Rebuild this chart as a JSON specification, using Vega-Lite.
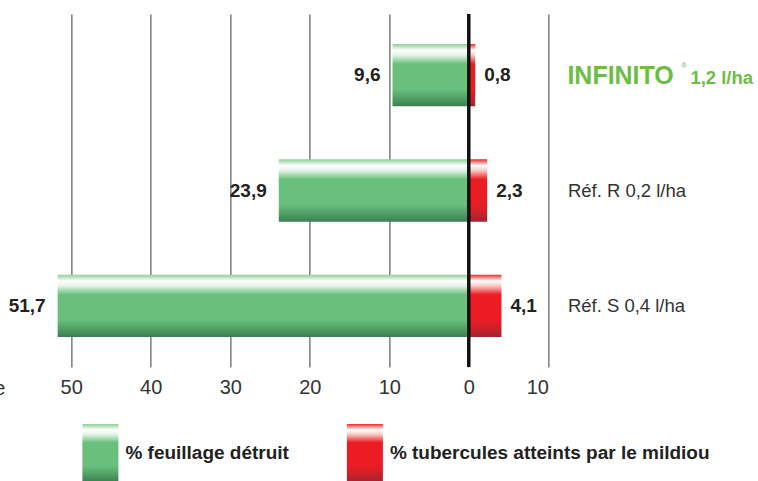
{
  "$schema": "https://vega.github.io/schema/vega-lite/v6.json",
  "padding": {"left": -6.6, "top": 12, "right": 5, "bottom": 5},
  "background": "white",
  "bounds": "flush",
  "spacing": 57,
  "config": {
    "view": {"stroke": null},
    "font": "Liberation Sans",
    "locale": {"number": {"decimal": ",", "thousands": " ", "grouping": [3], "currency": ["", " €"]}}
  },
  "datasets": {
    "results": [
      {"cat": "INFINITO", "series": "% feuillage détruit", "value": 9.6},
      {"cat": "INFINITO", "series": "% tubercules atteints par le mildiou", "value": 0.8},
      {"cat": "Réf. R 0,2 l/ha", "series": "% feuillage détruit", "value": 23.9},
      {"cat": "Réf. R 0,2 l/ha", "series": "% tubercules atteints par le mildiou", "value": 2.3},
      {"cat": "Réf. S 0,4 l/ha", "series": "% feuillage détruit", "value": 51.7},
      {"cat": "Réf. S 0,4 l/ha", "series": "% tubercules atteints par le mildiou", "value": 4.1}
    ],
    "legend": [
      {"series": "% feuillage détruit"},
      {"series": "% tubercules atteints par le mildiou"}
    ]
  },
  "vconcat": [
    {
      "width": 517,
      "height": 353,
      "data": {"name": "results"},
      "resolve": {"scale": {"x": "independent"}},
      "layer": [
        {
          "transform": [{"filter": "datum.series == '% feuillage détruit'"}],
          "encoding": {
            "x": {
              "field": "value", "type": "quantitative",
              "scale": {"domain": [-10, 55], "reverse": true, "nice": false, "zero": false},
              "axis": {
                "values": [50, 40, 30, 20, 10, 0, -10],
                "labelExpr": "'' + abs(datum.value)",
                "grid": true, "gridColor": "#3a3a3a", "gridWidth": 1,
                "domain": false, "ticks": false,
                "labelFontSize": 20, "labelColor": "#333333", "labelPadding": 11,
                "title": "e", "titleX": -26.5, "titleY": 28, "titleAlign": "right",
                "titleBaseline": "alphabetic", "titleFontSize": 20, "titleFontWeight": "normal",
                "titleColor": "#333333"
              }
            },
            "y": {
              "field": "cat", "type": "nominal",
              "scale": {"domain": ["INFINITO", "Réf. R 0,2 l/ha", "Réf. S 0,4 l/ha"], "paddingInner": 0.46, "paddingOuter": 0.26},
              "axis": {
                "orient": "right", "title": null, "domain": false, "ticks": false,
                "labelExpr": "datum.value == 'INFINITO' ? '' : datum.value",
                "labelFontSize": 18.5, "labelColor": "#333333", "labelPadding": 19
              }
            }
          },
          "layer": [
            {
              "mark": {
                "type": "bar",
                "color": {"gradient": "linear", "x1": 0, "y1": 0, "x2": 0, "y2": 1,
                  "stops": [
                    {"offset": 0, "color": "#8fcf9a"},
                    {"offset": 0.1, "color": "#ffffff"},
                    {"offset": 0.18, "color": "#e3f3e6"},
                    {"offset": 0.32, "color": "#69c07c"},
                    {"offset": 0.72, "color": "#69c07c"},
                    {"offset": 0.88, "color": "#4f9d63"},
                    {"offset": 1, "color": "#3b7f50"}]}
              }
            },
            {
              "mark": {"type": "text", "align": "right", "baseline": "middle", "dx": -12, "fontSize": 19, "fontWeight": "bold", "color": "#222222"},
              "encoding": {"text": {"field": "value", "type": "quantitative", "format": ".1f"}}
            }
          ]
        },
        {
          "encoding": {
            "x": {
              "field": "value", "type": "quantitative",
              "scale": {"domain": [-55, 10], "nice": false, "zero": false},
              "axis": null
            },
            "y": {"field": "cat", "type": "nominal"}
          },
          "layer": [
            {
              "transform": [{"filter": "datum.series == '% tubercules atteints par le mildiou'"}],
              "layer": [
                {
                  "mark": {
                    "type": "bar",
                    "color": {"gradient": "linear", "x1": 0, "y1": 0, "x2": 0, "y2": 1,
                      "stops": [
                        {"offset": 0, "color": "#ee2a2a"},
                        {"offset": 0.1, "color": "#ffffff"},
                        {"offset": 0.18, "color": "#f9c9c4"},
                        {"offset": 0.32, "color": "#ec1c24"},
                        {"offset": 0.72, "color": "#ec1c24"},
                        {"offset": 0.88, "color": "#c9202a"},
                        {"offset": 1, "color": "#9e2430"}]}
                  }
                },
                {
                  "mark": {"type": "text", "align": "left", "baseline": "middle", "dx": 9, "fontSize": 19, "fontWeight": "bold", "color": "#222222"},
                  "encoding": {"text": {"field": "value", "type": "quantitative", "format": ".1f"}}
                }
              ]
            },
            {
              "mark": {"type": "rule", "color": "#111111", "strokeWidth": 2.5},
              "encoding": {"x": {"datum": 0, "type": "quantitative"}, "y": null}
            },
            {
              "transform": [{"filter": "datum.cat == 'INFINITO' && datum.series == '% feuillage détruit'"}],
              "layer": [
                {
                  "mark": {"type": "text", "align": "left", "baseline": "middle", "dx": 19, "dy": 1, "fontSize": 25, "fontWeight": "bold", "color": "#6cbd45", "text": "INFINITO"},
                  "encoding": {"x": {"datum": 10, "type": "quantitative"}}
                },
                {
                  "mark": {"type": "text", "align": "left", "baseline": "middle", "dx": 133, "dy": -9, "fontSize": 7, "color": "#6cbd45", "text": "®"},
                  "encoding": {"x": {"datum": 10, "type": "quantitative"}}
                },
                {
                  "mark": {"type": "text", "align": "left", "baseline": "middle", "dx": 142, "dy": 3, "fontSize": 18.5, "fontWeight": "bold", "color": "#6cbd45", "text": "1,2 l/ha"},
                  "encoding": {"x": {"datum": 10, "type": "quantitative"}}
                }
              ]
            }
          ]
        }
      ]
    },
    {
      "width": 517,
      "height": 58,
      "data": {"name": "legend"},
      "encoding": {
        "x": {
          "field": "series", "type": "nominal",
          "scale": {"type": "point", "domain": ["% feuillage détruit", "% tubercules atteints par le mildiou"], "range": [69, 333.5], "padding": 0},
          "axis": null
        }
      },
      "layer": [
        {
          "transform": [{"filter": "datum.series == '% feuillage détruit'"}],
          "mark": {
            "type": "bar", "width": 36,
            "color": {"gradient": "linear", "x1": 0, "y1": 0, "x2": 0, "y2": 1,
              "stops": [
                {"offset": 0, "color": "#8fcf9a"},
                {"offset": 0.1, "color": "#ffffff"},
                {"offset": 0.18, "color": "#e3f3e6"},
                {"offset": 0.32, "color": "#69c07c"},
                {"offset": 0.72, "color": "#69c07c"},
                {"offset": 0.88, "color": "#4f9d63"},
                {"offset": 1, "color": "#3b7f50"}]}
          }
        },
        {
          "transform": [{"filter": "datum.series == '% tubercules atteints par le mildiou'"}],
          "mark": {
            "type": "bar", "width": 36,
            "color": {"gradient": "linear", "x1": 0, "y1": 0, "x2": 0, "y2": 1,
              "stops": [
                {"offset": 0, "color": "#ee2a2a"},
                {"offset": 0.1, "color": "#ffffff"},
                {"offset": 0.18, "color": "#f9c9c4"},
                {"offset": 0.32, "color": "#ec1c24"},
                {"offset": 0.72, "color": "#ec1c24"},
                {"offset": 0.88, "color": "#c9202a"},
                {"offset": 1, "color": "#9e2430"}]}
          }
        },
        {
          "mark": {"type": "text", "align": "left", "baseline": "middle", "dx": 25, "fontSize": 19, "fontWeight": "bold", "color": "#222222"},
          "encoding": {"text": {"field": "series", "type": "nominal"}}
        }
      ]
    }
  ]
}
